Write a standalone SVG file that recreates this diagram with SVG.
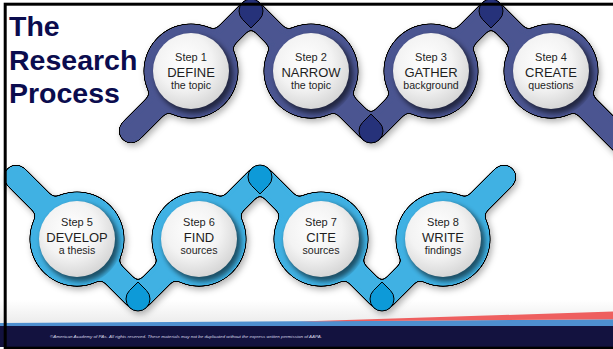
<svg xmlns="http://www.w3.org/2000/svg" width="613" height="349" viewBox="0 0 613 349">
<defs>
<style>
.title{font-family:"Liberation Sans",Arial,sans-serif;font-weight:bold;font-size:28.5px;fill:#0b0c4e}
.st{font-family:"Liberation Sans",Arial,sans-serif;text-anchor:middle;fill:#1e1e1e;font-size:11px}
.mn{font-size:13px}
.sb{font-size:10.6px}
.edge{fill:none;stroke:#000;stroke-width:25;stroke-linecap:round;stroke-linejoin:round}
.nav{fill:none;stroke:#4b5491;stroke-width:23;stroke-linecap:round;stroke-linejoin:round}
.blu{fill:none;stroke:#3fb1e3;stroke-width:23;stroke-linecap:round;stroke-linejoin:round}
.jn{fill:#27307a;stroke:#000;stroke-width:1}
.jb{fill:#0f9ad8;stroke:#000;stroke-width:1}
.disk{fill:url(#wg)}
.sh{fill:#000;opacity:0.55;filter:url(#blur)}
.foot{font-family:"Liberation Sans",Arial,sans-serif;font-style:italic;font-size:3.8px;fill:#d8d8e8}
</style>
<radialGradient id="wg" cx="0.42" cy="0.38" r="0.65">
<stop offset="0" stop-color="#ffffff"/>
<stop offset="0.55" stop-color="#f3f3f3"/>
<stop offset="1" stop-color="#d4d4d4"/>
</radialGradient>
<linearGradient id="fg" x1="0" y1="0" x2="0" y2="1">
<stop offset="0" stop-color="#ffffff"/>
<stop offset="1" stop-color="#ebebeb"/>
</linearGradient>
<filter id="goo" filterUnits="userSpaceOnUse" x="-20" y="-20" width="680" height="360">
<feGaussianBlur stdDeviation="3"/>
<feColorMatrix values="1 0 0 0 0  0 1 0 0 0  0 0 1 0 0  0 0 0 20 -9"/>
</filter>
<filter id="ds" filterUnits="userSpaceOnUse" x="-20" y="-20" width="680" height="360">
<feDropShadow dx="2" dy="3" stdDeviation="3" flood-opacity="0.3"/>
</filter>
<filter id="blur" x="-30%" y="-30%" width="160%" height="160%">
<feGaussianBlur stdDeviation="2.5"/>
</filter>
<path id="peak" d="M-8.49,8.49 L0,16.97 L8.49,8.49 A12,12 0 1 0 -8.49,8.49Z"/>
<path id="valley" d="M-8.49,-8.49 L0,-16.97 L8.49,-8.49 A12,12 0 1 1 -8.49,-8.49Z"/>
<clipPath id="c1"><circle cx="191" cy="71" r="46"/></clipPath>
<clipPath id="c2"><circle cx="311" cy="71" r="46"/></clipPath>
<clipPath id="c3"><circle cx="431" cy="71" r="46"/></clipPath>
<clipPath id="c4"><circle cx="551" cy="71" r="46"/></clipPath>
<clipPath id="c5"><circle cx="77" cy="239" r="46"/></clipPath>
<clipPath id="c6"><circle cx="199" cy="239" r="46"/></clipPath>
<clipPath id="c7"><circle cx="321" cy="239" r="46"/></clipPath>
<clipPath id="c8"><circle cx="443" cy="239" r="46"/></clipPath>
</defs>

<rect width="613" height="349" fill="#fff"/>
<rect x="0" y="300" width="613" height="24" fill="url(#fg)"/>

<g id="title" class="title">
<text x="9" y="36">The</text>
<text x="9" y="70">Research</text>
<text x="9" y="103">Process</text>
</g>

<g id="connectors">
<g id="band-top" filter="url(#ds)">
<g filter="url(#goo)">
<path class="edge" d="M131,131 L251,11 L371,131 L491,11 L631,151"/>
<g fill="#000"><circle cx="191" cy="71" r="47.5"/><circle cx="311" cy="71" r="47.5"/><circle cx="431" cy="71" r="47.5"/><circle cx="551" cy="71" r="47.5"/></g>
</g>
<g filter="url(#goo)">
<path class="nav" d="M131,131 L251,11 L371,131 L491,11 L631,151"/>
<g fill="#4b5491"><circle cx="191" cy="71" r="46.5"/><circle cx="311" cy="71" r="46.5"/><circle cx="431" cy="71" r="46.5"/><circle cx="551" cy="71" r="46.5"/></g>
</g>
<use href="#peak" class="jn" x="251" y="11"/>
<use href="#valley" class="jn" x="371" y="131"/>
<use href="#peak" class="jn" x="491" y="11"/>
</g>
<g id="band-bottom" filter="url(#ds)">
<g filter="url(#goo)">
<path class="edge" d="M16,177 L138,299 L260,177 L382,299 L504,177"/>
<g fill="#000"><circle cx="77" cy="239" r="47.5"/><circle cx="199" cy="239" r="47.5"/><circle cx="321" cy="239" r="47.5"/><circle cx="443" cy="239" r="47.5"/></g>
</g>
<g filter="url(#goo)">
<path class="blu" d="M16,177 L138,299 L260,177 L382,299 L504,177"/>
<g fill="#3fb1e3"><circle cx="77" cy="239" r="46.5"/><circle cx="199" cy="239" r="46.5"/><circle cx="321" cy="239" r="46.5"/><circle cx="443" cy="239" r="46.5"/></g>
</g>
<use href="#valley" class="jb" x="138" y="299"/>
<use href="#peak" class="jb" x="260" y="177"/>
<use href="#valley" class="jb" x="382" y="299"/>
</g>
</g>

<g id="step1">
<g clip-path="url(#c1)"><circle class="sh" cx="194" cy="74.5" r="39"/></g>
<circle class="disk" cx="191" cy="71" r="38"/>
<text class="st" x="191" y="61">Step 1</text>
<text class="st mn" x="191" y="77">DEFINE</text>
<text class="st sb" x="191" y="89">the topic</text>
</g>
<g id="step2">
<g clip-path="url(#c2)"><circle class="sh" cx="314" cy="74.5" r="39"/></g>
<circle class="disk" cx="311" cy="71" r="38"/>
<text class="st" x="311" y="61">Step 2</text>
<text class="st mn" x="311" y="77">NARROW</text>
<text class="st sb" x="311" y="89">the topic</text>
</g>
<g id="step3">
<g clip-path="url(#c3)"><circle class="sh" cx="434" cy="74.5" r="39"/></g>
<circle class="disk" cx="431" cy="71" r="38"/>
<text class="st" x="431" y="61">Step 3</text>
<text class="st mn" x="431" y="77">GATHER</text>
<text class="st sb" x="431" y="89">background</text>
</g>
<g id="step4">
<g clip-path="url(#c4)"><circle class="sh" cx="554" cy="74.5" r="39"/></g>
<circle class="disk" cx="551" cy="71" r="38"/>
<text class="st" x="551" y="61">Step 4</text>
<text class="st mn" x="551" y="77">CREATE</text>
<text class="st sb" x="551" y="89">questions</text>
</g>
<g id="step5">
<g clip-path="url(#c5)"><circle class="sh" cx="80" cy="242.5" r="39"/></g>
<circle class="disk" cx="77" cy="239" r="38"/>
<text class="st" x="77" y="226">Step 5</text>
<text class="st mn" x="77" y="242">DEVELOP</text>
<text class="st sb" x="77" y="254">a thesis</text>
</g>
<g id="step6">
<g clip-path="url(#c6)"><circle class="sh" cx="202" cy="242.5" r="39"/></g>
<circle class="disk" cx="199" cy="239" r="38"/>
<text class="st" x="199" y="226">Step 6</text>
<text class="st mn" x="199" y="242">FIND</text>
<text class="st sb" x="199" y="254">sources</text>
</g>
<g id="step7">
<g clip-path="url(#c7)"><circle class="sh" cx="324" cy="242.5" r="39"/></g>
<circle class="disk" cx="321" cy="239" r="38"/>
<text class="st" x="321" y="226">Step 7</text>
<text class="st mn" x="321" y="242">CITE</text>
<text class="st sb" x="321" y="254">sources</text>
</g>
<g id="step8">
<g clip-path="url(#c8)"><circle class="sh" cx="446" cy="242.5" r="39"/></g>
<circle class="disk" cx="443" cy="239" r="38"/>
<text class="st" x="443" y="226">Step 8</text>
<text class="st mn" x="443" y="242">WRITE</text>
<text class="st sb" x="443" y="254">findings</text>
</g>

<g id="footer">
<polygon points="0,323 613,319.3 613,326.5 0,326.5" fill="#4e8fcf"/>
<polygon points="300,321.6 613,311.5 613,319.3" fill="#ee5f5f"/>
<rect x="0" y="326" width="613" height="21" fill="#13123f"/>
<text class="foot" x="50" y="337.5" textLength="272" lengthAdjust="spacingAndGlyphs">©American Academy of PAs. All rights reserved. These materials may not be duplicated without the express written permission of AAPA.</text>
</g>

<rect x="5.2" y="4.2" width="700" height="344" fill="none" stroke="#000" stroke-width="3"/>
</svg>
